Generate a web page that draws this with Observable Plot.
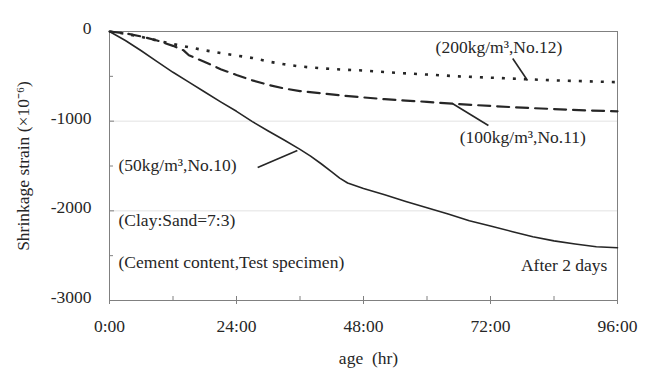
<!DOCTYPE html>
<html><head><meta charset="utf-8">
<script src="https://cdn.jsdelivr.net/npm/d3@7"></script>
<script src="https://cdn.jsdelivr.net/npm/@observablehq/plot@0.6"></script>
<style>body{margin:0;background:#fff}</style>
</head><body><div id="chart"></div>
<script>
// Series: 50 kg/m³ (No.10)
const hours50  = [0, 3, 6, 9, 12, 15, 18, 21, 24, 27, 30, 33, 36, 38, 40, 42, 43.5, 45, 48, 52, 56, 60, 64, 68, 72, 76, 80, 84, 88, 92, 96];
const strain50 = [0, -100, -215, -335, -455, -565, -675, -785, -890, -1005, -1110, -1210, -1315, -1390, -1475, -1565, -1635, -1690, -1750, -1820, -1895, -1965, -2035, -2110, -2170, -2230, -2290, -2335, -2370, -2400, -2412];
// Series: 100 kg/m³ (No.11)
const hours100  = [0, 3, 6, 9, 12, 14, 15, 18, 21, 24, 27, 30, 33, 36, 40, 44, 48, 52, 56, 60, 66, 72, 78, 84, 90, 96];
const strain100 = [0, -20, -55, -100, -160, -210, -265, -340, -420, -485, -545, -595, -635, -665, -690, -715, -735, -755, -770, -785, -810, -830, -850, -865, -880, -890];
// Series: 200 kg/m³ (No.12)
const hours200  = [0, 3, 6, 9, 12, 15, 18, 21, 24, 27, 30, 33, 36, 40, 44, 48, 54, 60, 66, 72, 78, 84, 90, 96];
const strain200 = [0, -25, -60, -100, -140, -175, -210, -240, -268, -295, -335, -365, -390, -410, -425, -435, -460, -480, -500, -515, -530, -545, -555, -565];

const seriesLabels = ["(50kg/m³,No.10)", "(100kg/m³,No.11)", "(200kg/m³,No.12)"];

const xTicks = [0, 24, 48, 72, 96];
const xTickLabels = ["0:00", "24:00", "48:00", "72:00", "96:00"];
const xMinorTicks = [12, 36, 60, 84];
const yTicks = [0, -1000, -2000, -3000];
const yTickLabels = ["0", "-1000", "-2000", "-3000"];
const yMinorTicks = [-500, -1500, -2500];

const yTitle = "Shrinkage strain (×10⁻⁶)";
const xTitle = "age\u2002(hr)";

// annotation texts (anchor points in data units: hours, strain)
const noteTexts  = [seriesLabels[2], seriesLabels[1], seriesLabels[0], "(Clay:Sand=7:3)", "(Cement content,Test specimen)", "After 2 days"];
const noteHours  = [73.6, 78.1, 1.7, 1.7, 1.7, 94.1];
const noteStrain = [-178, -1182, -1494, -2107, -2575, -2609];
const noteAlign  = ["middle", "middle", "start", "start", "start", "end"];

// leader lines from labels to curves
const leadH1 = [76.2, 64.8, 28.0];
const leadS1 = [-301, -803, -1516];
const leadH2 = [79.0, 71.6, 35.5];
const leadS2 = [-546, -1048, -1327];

const toRows = (hs, ss, name) => hs.map((h, i) => ({h, s: ss[i], name}));
const d50 = toRows(hours50, strain50, seriesLabels[0]);
const d100 = toRows(hours100, strain100, seriesLabels[1]);
const d200 = toRows(hours200, strain200, seriesLabels[2]);
const notes = noteTexts.map((t, i) => ({t, h: noteHours[i], s: noteStrain[i], a: noteAlign[i]}));
const leaders = leadH1.map((h, i) => ({h1: h, s1: leadS1[i], h2: leadH2[i], s2: leadS2[i]}));

const ink = "#262626";
const axisGray = "#808080";

const chart = Plot.plot({
  width: 656, height: 374,
  marginLeft: 109, marginRight: 39, marginTop: 31, marginBottom: 74,
  style: {fontFamily: "'Liberation Serif', 'Times New Roman', serif", fontSize: "17.5px", color: ink, background: "#fff"},
  x: {domain: [0, 96], axis: null},
  y: {domain: [-3000, 0], axis: null},
  marks: [
    Plot.ruleY([-1000, -2000], {stroke: "#ececec", strokeWidth: 1.5}),
    Plot.frame({stroke: axisGray, strokeWidth: 1}),
    // y ticks (inward)
    Plot.axisY(yTicks, {anchor: "left", tickSize: 5, dx: 5, fill: "none", stroke: axisGray, label: null}),
    Plot.axisY(yMinorTicks, {anchor: "left", tickSize: 4, dx: 4, fill: "none", stroke: axisGray, label: null}),
    Plot.axisY(yTicks, {anchor: "left", tickSize: 0, tickPadding: 18, dy: -3, fill: ink,
      tickFormat: d => yTickLabels[yTicks.indexOf(d)], label: null}),
    // x ticks (crossing majors, inward minors)
    Plot.axisX(xTicks, {anchor: "bottom", tickSize: 8, dy: -4, fill: "none", stroke: axisGray, label: null}),
    Plot.axisX(xMinorTicks, {anchor: "bottom", tickSize: 4, dy: -4, fill: "none", stroke: axisGray, label: null}),
    Plot.axisX(xTicks, {anchor: "bottom", tickSize: 0, tickPadding: 19, fill: ink,
      tickFormat: d => xTickLabels[xTicks.indexOf(d)], label: null}),
    // curves
    Plot.line(d200, {x: "h", y: "s", stroke: ink, strokeWidth: 2.6, strokeDasharray: "3,8", strokeLinecap: "butt"}),
    Plot.line(d100, {x: "h", y: "s", stroke: ink, strokeWidth: 2.2, strokeDasharray: "12,7"}),
    Plot.line(d50, {x: "h", y: "s", stroke: ink, strokeWidth: 1.6}),
    // leaders
    Plot.link(leaders, {x1: "h1", y1: "s1", x2: "h2", y2: "s2", stroke: ink, strokeWidth: 1.6}),
    // annotations
    Plot.text(notes.filter(d => d.a === "start"), {x: "h", y: "s", text: "t", textAnchor: "start", fill: ink}),
    Plot.text(notes.filter(d => d.a === "middle"), {x: "h", y: "s", text: "t", textAnchor: "middle", fill: ink}),
    Plot.text(notes.filter(d => d.a === "end"), {x: "h", y: "s", text: "t", textAnchor: "end", fill: ink}),
    // axis titles
    Plot.text([yTitle], {text: d => d, frameAnchor: "left", textAnchor: "middle", dx: -86, rotate: -90, fill: ink}),
    Plot.text([xTitle], {text: d => d, frameAnchor: "bottom", dx: 5, dy: 63, fill: ink})
  ]
});
document.getElementById("chart").appendChild(chart);
</script>
</body></html>
